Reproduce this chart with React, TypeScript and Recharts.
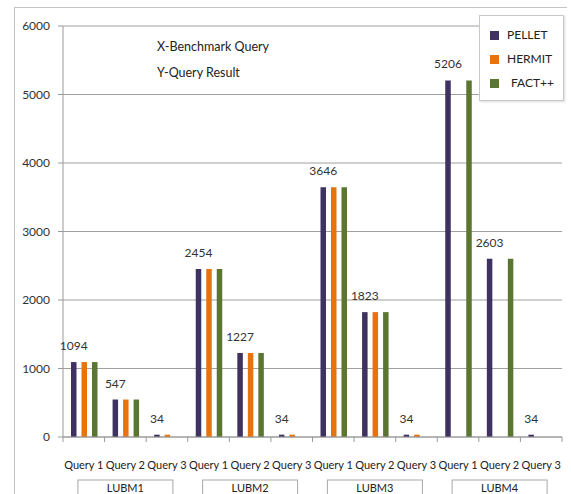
import React from 'react';
import { BarChart, Bar, XAxis, YAxis, CartesianGrid, LabelList } from 'recharts';

const groups = ['LUBM1', 'LUBM2', 'LUBM3', 'LUBM4'];
const queries = ['Query 1', 'Query 2', 'Query 3'];
const seriesNames = ['PELLET', 'HERMIT', 'FACT++'];
const pellet = [1094, 547, 34, 2454, 1227, 34, 3646, 1823, 34, 5206, 2603, 34];
const hermit = [1094, 547, 34, 2454, 1227, 34, 3646, 1823, 34, 0, 0, 0];
const fact = [1094, 547, 0, 2454, 1227, 0, 3646, 1823, 0, 5206, 2603, 0];
const yTicks = [0, 1000, 2000, 3000, 4000, 5000, 6000];
const notes = ['X-Benchmark Query', 'Y-Query Result'];
const colors = ['#3F3160', '#E8720C', '#5B7631'];

const seriesValues = [pellet, hermit, fact];

const data = groups.flatMap((g, gi) =>
  queries.map((q, qi) => {
    const i = gi * queries.length + qi;
    const row: any = { key: `${g}-${q}`, group: g, query: q };
    seriesNames.forEach((s, si) => {
      row[s] = seriesValues[si][i];
    });
    return row;
  })
);

const FONT = "Lato, 'DejaVu Sans Condensed', sans-serif";
const W = 571;
const H = 494;
const M = { top: 26, right: 9, left: 0, bottom: 0 };
const Y_W = 63;
const X_H = 57;
const PLOT_W = W - M.left - M.right - Y_W;
const STEP = PLOT_W / data.length;

const XTick = (props: any) => {
  const { x, y, index } = props;
  const row = data[index] || {};
  const left = x - STEP / 2;
  const right = x + STEP / 2;
  return (
    <g>
      <line x1={left} y1={y} x2={left} y2={y + 5} stroke="#9a9a9a" strokeWidth={1} />
      {index === data.length - 1 && (
        <line x1={right} y1={y} x2={right} y2={y + 5} stroke="#9a9a9a" strokeWidth={1} />
      )}
      <text x={x} y={y + 29} textAnchor="middle" dominantBaseline="middle" fontSize={11} fill="#222" fontFamily={FONT}>
        {row.query}
      </text>
      {index % queries.length === 1 && (
        <g>
          <rect x={x - 47.5} y={y + 43} width={95} height={30} fill="#fff" stroke="#a8a8a8" strokeWidth={1} />
          <text x={x} y={y + 52} textAnchor="middle" dominantBaseline="middle" fontSize={11} fill="#222" fontFamily={FONT}>
            {row.group}
          </text>
        </g>
      )}
    </g>
  );
};

export default function App() {
  return (
    <div style={{ position: 'absolute', left: 0, top: 0, width: W, height: H, background: '#fff', overflow: 'hidden', fontFamily: FONT }}>
      <div style={{ position: 'absolute', left: 14, top: 7, width: 552, height: 520, borderLeft: '1px solid #c4c4c4', borderTop: '1px solid #c4c4c4' }} />
      <BarChart width={W} height={H} data={data} margin={M} barSize={5.5} barGap={5} style={{ position: 'absolute', left: 0, top: 0 }}>
        <CartesianGrid vertical={false} stroke="#a0a0a0" strokeWidth={1} />
        <XAxis
          dataKey="key"
          interval={0}
          height={X_H}
          tickLine={false}
          tickSize={0}
          tickMargin={0}
          axisLine={{ stroke: '#9a9a9a' }}
          tick={<XTick />}
        />
        <YAxis
          width={Y_W}
          domain={[0, 6000]}
          ticks={yTicks}
          interval={0}
          axisLine={{ stroke: '#9a9a9a' }}
          tickLine={{ stroke: '#9a9a9a' }}
          tickSize={5}
          tickMargin={8}
          tick={{ fontSize: 12, fill: '#333', fontFamily: FONT }}
        />
        {seriesNames.map((s, si) => (
          <Bar key={s} dataKey={s} fill={colors[si]} isAnimationActive={false}>
            {si === 0 && (
              <LabelList dataKey={s} position="top" offset={12} fontSize={12} fill="#333" fontFamily={FONT} />
            )}
          </Bar>
        ))}
      </BarChart>
      {notes.map((n, i) => (
        <div key={n} style={{ position: 'absolute', left: 157, top: 38 + i * 26, height: 18, lineHeight: '18px', fontSize: 12.5, color: '#222', whiteSpace: 'nowrap' }}>
          {n}
        </div>
      ))}
      <div style={{ position: 'absolute', left: 479, top: 15, width: 83, height: 84, background: '#fff', border: '1px solid #c8c8c8', boxShadow: '1px 1px 2px rgba(0,0,0,0.15)' }}>
        {seriesNames.map((s, i) => (
          <div key={s} style={{ position: 'absolute', left: 10, top: 10 + i * 24, height: 18, display: 'flex', alignItems: 'center' }}>
            <div style={{ width: 9, height: 9, background: colors[i] }} />
            <div style={{ marginLeft: i === 2 ? 12 : 8, fontSize: 12, color: '#222', lineHeight: '18px' }}>{s}</div>
          </div>
        ))}
      </div>
    </div>
  );
}
